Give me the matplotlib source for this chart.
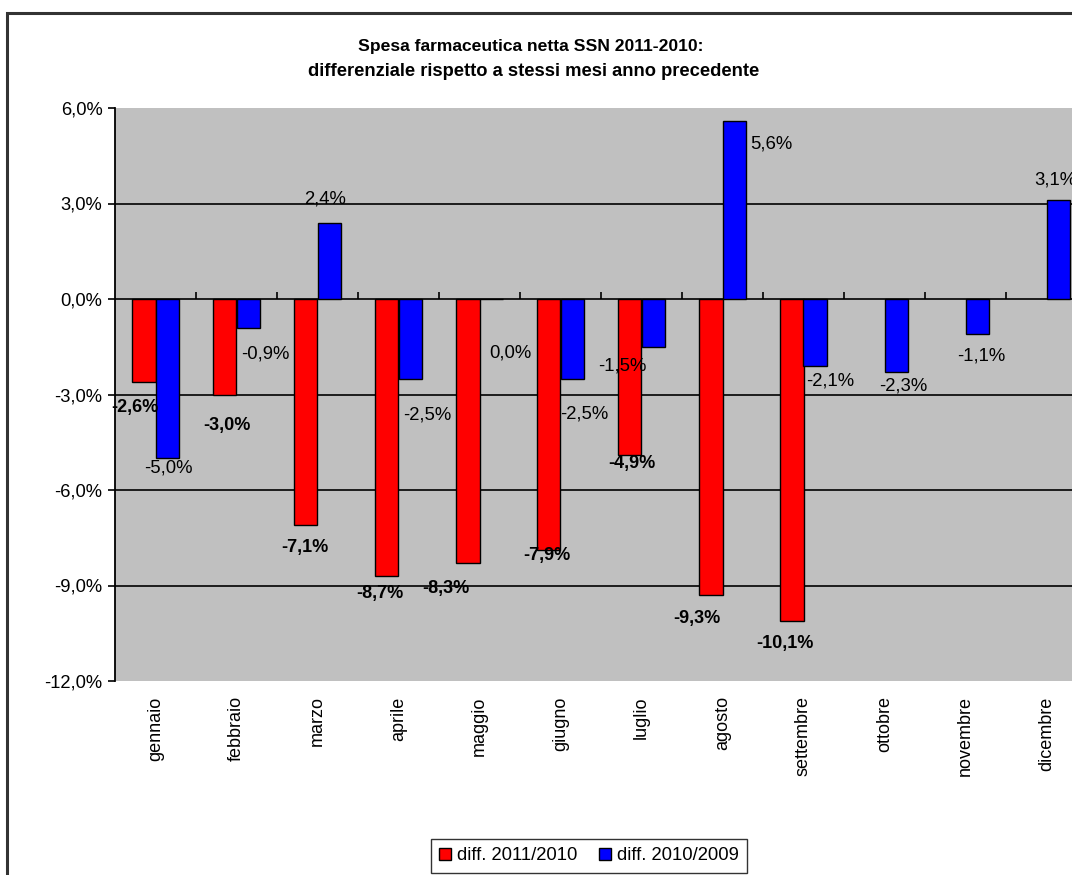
import numpy as np
import matplotlib
matplotlib.use("Agg")
import matplotlib.pyplot as plt
from matplotlib.patches import Rectangle

plt.rcParams['font.family'] = ['Liberation Sans', 'DejaVu Sans']

months = ["gennaio", "febbraio", "marzo", "aprile", "maggio", "giugno",
          "luglio", "agosto", "settembre", "ottobre", "novembre", "dicembre"]
diff_2011_2010 = [-2.6, -3.0, -7.1, -8.7, -8.3, -7.9, -4.9, -9.3, -10.1,
                  np.nan, np.nan, np.nan]
diff_2010_2009 = [-5.0, -0.9, 2.4, -2.5, 0.0, -2.5, -1.5, 5.6, -2.1,
                  -2.3, -1.1, 3.1]
series_names = ["diff. 2011/2010", "diff. 2010/2009"]
yticks = [6, 3, 0, -3, -6, -9, -12]

# label offsets (pixels) relative to the bar end, mimicking manual placement
red_off = [(-9, -26), (2, -31), (-1, -22), (-7, -18), (-22, -25), (-2, -5),
           (2, -9), (-14, -23), (-7, -23), None, None, None]
blue_off = [(1, -10), (17, -26), (-4, 24), (17, -36), (19, -54), (12, -35),
            (-31, -19), (37, -23), (15, -15), (7, -14), (4, -22), (-3, 20)]

W, H = 1072, 875
fig = plt.figure(figsize=(W / 100, H / 100), dpi=100)
fig.patch.set_facecolor('white')

# outer chart border
fig.patches.append(Rectangle((7 / W, -0.2), 1.5, 1.2 - 13 / H,
                             transform=fig.transFigure, fill=False,
                             edgecolor='#333333', lw=2.2))

left, right = 115 / W, 1087 / W
top, bottom = 1 - 108 / H, 1 - 681 / H
ax = fig.add_axes([left, bottom, right - left, top - bottom])
ax.set_facecolor('#C0C0C0')

x = np.arange(len(months))
bw = 0.284
ax.bar(x - bw / 2, diff_2011_2010, bw, color='#FF0000', edgecolor='black',
       lw=1.0, label=series_names[0], zorder=3)
ax.bar(x + bw / 2, diff_2010_2009, bw, color='#0000FF', edgecolor='black',
       lw=1.0, label=series_names[1], zorder=3)

ax.set_xlim(-0.5, len(months) - 0.5)
ax.set_ylim(-12, 6)

def fmt(v):
    return f"{v:.1f}".replace('.', ',') + '%'

for i, (v, off) in enumerate(zip(diff_2011_2010, red_off)):
    if off is None or np.isnan(v):
        continue
    ax.annotate(fmt(v), (x[i] - bw / 2, v), xytext=off,
                textcoords='offset pixels', ha='center', va='center',
                fontsize=13, fontweight='bold', zorder=5)
for i, (v, off) in enumerate(zip(diff_2010_2009, blue_off)):
    ax.annotate(fmt(v), (x[i] + bw / 2, v), xytext=off,
                textcoords='offset pixels', ha='center', va='center',
                fontsize=13.3, zorder=5)

# y axis
ax.set_yticks(yticks)
ax.set_yticklabels([fmt(t) for t in yticks], fontsize=13.2)
ax.tick_params(axis='y', direction='out', length=5, width=1.2, color='black', pad=4)
ax.grid(axis='y', color='black', lw=1.2, zorder=1)
for gl, t in zip(ax.get_ygridlines(), yticks):
    if t in (6, -12):
        gl.set_visible(False)

for s in ['top', 'right', 'bottom']:
    ax.spines[s].set_visible(False)
ax.spines['left'].set_color('black')
ax.spines['left'].set_linewidth(1.3)

# category labels at bottom
ax.set_xticks(x)
ax.set_xticklabels(months, rotation=90, fontsize=13, va='top')
ax.tick_params(axis='x', length=0, pad=11)

# zero axis with tick marks between categories
zero_pos = (0 - (-12)) / (6 - (-12))
sec = ax.secondary_xaxis(zero_pos)
sec.set_xticks(np.arange(0.5, len(months) - 0.5, 1.0))
sec.set_xticklabels([])
sec.tick_params(axis='x', direction='out', length=5, width=1.2, color='black')
sec.spines['bottom'].set_color('black')
sec.spines['bottom'].set_linewidth(1.3)
for s in ['top', 'left', 'right']:
    sec.spines[s].set_visible(False)

# title
fig.text(531 / W, 1 - 47 / H, "Spesa farmaceutica netta SSN 2011-2010:",
         ha='center', va='center', fontsize=12.6, fontweight='bold')
fig.text(534 / W, 1 - 72 / H, "differenziale rispetto a stessi mesi anno precedente",
         ha='center', va='center', fontsize=13.2, fontweight='bold')

leg = fig.legend(loc='upper center', bbox_to_anchor=(589 / W, 1 - 839 / H),
                 ncol=2, frameon=True, fancybox=False, fontsize=13.3,
                 handlelength=0.65, handleheight=0.65, handletextpad=0.3,
                 columnspacing=1.2, borderpad=0.45, borderaxespad=0)
leg.get_frame().set_edgecolor('black')
leg.get_frame().set_linewidth(1.0)

fig.savefig('out.png', dpi=100, facecolor='white')
